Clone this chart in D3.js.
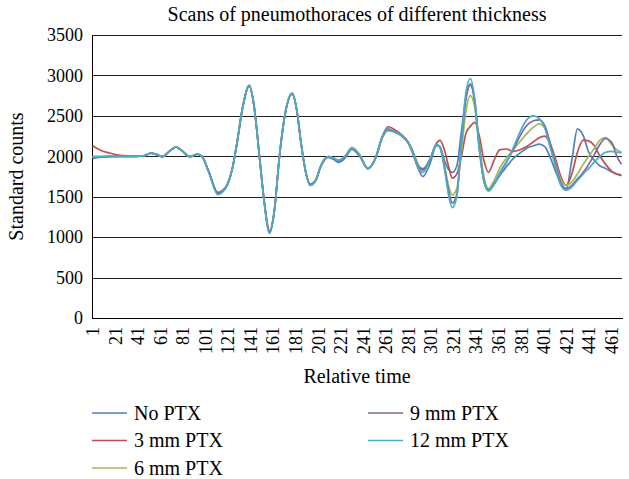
<!DOCTYPE html>
<html>
<head>
<meta charset="utf-8">
<script src="https://cdn.jsdelivr.net/npm/d3@7"></script>
<style>
body { margin: 0; background: #fff; }
</style>
</head>
<body>
<div id="chart"></div>
<script>
/* Scans of pneumothoraces - line chart */

// relative time of each sampled point
const times = [1, 8, 16, 24, 32, 40, 46, 53, 58, 63, 69, 75, 81, 87, 94, 98, 104, 112, 116, 121,
  125, 129, 134, 140, 144, 149, 153, 158, 162, 167, 172, 178, 182, 186, 190, 194, 199, 203, 210, 215,
  219, 225, 231, 238, 245, 252, 258, 263, 270, 276, 281, 285, 290, 294, 300, 306, 309, 313, 317, 320,
  324, 328, 332, 336, 340, 344, 348, 352, 357, 362, 368, 374, 380, 386, 392, 397, 402, 407, 412, 416,
  421, 426, 431, 436, 441, 446, 451, 456, 461, 466, 470];

const noPtx = [1985, 1992, 1998, 2000, 2000, 2000, 2005, 2040, 2020, 1995, 2060, 2115, 2060, 1995, 2025, 2000, 1810, 1545, 1570, 1665,
  1850, 2160, 2600, 2870, 2640, 2000, 1470, 1070, 1310, 2037, 2540, 2770, 2580, 2150, 1810, 1655, 1710, 1860, 1985, 1960,
  1925, 1980, 2085, 2000, 1845, 1975, 2230, 2320, 2290, 2240, 2160, 2030, 1840, 1750, 1900, 2130, 2120, 1950, 1830, 1800,
  1880, 2300, 2720, 2900, 2650, 2080, 1700, 1580, 1650, 1760, 1870, 1970, 2040, 2100, 2130, 2150, 2120, 1980, 1800, 1660,
  1600, 1950, 2340, 2260, 2050, 1950, 1880, 1850, 1810, 1780, 1770];

const ptx3 = [2130, 2075, 2040, 2015, 2005, 2002, 2005, 2040, 2020, 1995, 2060, 2115, 2060, 1995, 2025, 2000, 1815, 1555, 1575, 1670,
  1850, 2150, 2590, 2870, 2640, 2000, 1475, 1075, 1310, 2030, 2540, 2775, 2580, 2150, 1810, 1650, 1710, 1865, 1995, 1970,
  1945, 1995, 2090, 2005, 1850, 1985, 2250, 2365, 2320, 2255, 2175, 2060, 1890, 1830, 1960, 2160, 2200, 2080, 1860, 1730,
  1780, 1990, 2280, 2370, 2420, 2250, 1950, 1800, 1950, 2080, 2090, 2060, 2080, 2120, 2180, 2230, 2250, 2150, 1950, 1760,
  1640, 1780, 2050, 2200, 2190, 2130, 2000, 1900, 1820, 1780, 1760];

const ptx6 = [2000, 2000, 2000, 2000, 2000, 2000, 2005, 2040, 2020, 1995, 2060, 2118, 2060, 1995, 2025, 2000, 1810, 1550, 1570, 1665,
  1850, 2160, 2600, 2875, 2640, 2000, 1465, 1060, 1300, 2037, 2545, 2775, 2580, 2150, 1805, 1645, 1705, 1865, 1995, 1975,
  1950, 2005, 2110, 2020, 1850, 1980, 2240, 2340, 2300, 2245, 2170, 2050, 1880, 1850, 1960, 2140, 2120, 1890, 1620, 1520,
  1600, 2050, 2550, 2750, 2600, 2150, 1750, 1600, 1700, 1850, 1980, 2080, 2180, 2280, 2360, 2400, 2350, 2150, 1900, 1720,
  1640, 1680, 1780, 1900, 2000, 2100, 2200, 2230, 2150, 2080, 2050];

const ptx9 = [1975, 1988, 1996, 2000, 2000, 2000, 2005, 2040, 2020, 1995, 2060, 2115, 2060, 1995, 2025, 2000, 1810, 1545, 1565, 1660,
  1850, 2160, 2600, 2875, 2640, 2000, 1460, 1060, 1300, 2037, 2545, 2775, 2580, 2150, 1805, 1645, 1705, 1865, 1995, 1972,
  1945, 1998, 2095, 2010, 1850, 1980, 2240, 2335, 2300, 2245, 2170, 2050, 1870, 1840, 1950, 2140, 2115, 1870, 1560, 1420,
  1530, 2150, 2700, 2880, 2680, 2120, 1700, 1580, 1660, 1790, 1930, 2080, 2250, 2380, 2440, 2450, 2380, 2150, 1880, 1680,
  1600, 1640, 1720, 1800, 1900, 2020, 2150, 2220, 2180, 2000, 1900];

const ptx12 = [1990, 1995, 2000, 2000, 2000, 2000, 2005, 2040, 2020, 1995, 2060, 2115, 2060, 1995, 2025, 2000, 1800, 1525, 1555, 1655,
  1850, 2160, 2600, 2880, 2650, 1995, 1450, 1045, 1290, 2037, 2550, 2780, 2580, 2150, 1800, 1640, 1700, 1870, 1995, 1975,
  1950, 2000, 2095, 2010, 1850, 1980, 2240, 2335, 2300, 2245, 2170, 2050, 1860, 1800, 1950, 2140, 2110, 1850, 1500, 1365,
  1500, 2150, 2780, 2960, 2700, 2100, 1700, 1570, 1650, 1780, 1920, 2100, 2300, 2450, 2500, 2470, 2350, 2100, 1850, 1650,
  1580, 1620, 1700, 1780, 1850, 1930, 2000, 2050, 2060, 2050, 2040];

const seriesNames = ["No PTX", "3 mm PTX", "6 mm PTX", "9 mm PTX", "12 mm PTX"];
const seriesValues = [noPtx, ptx3, ptx6, ptx9, ptx12];
const seriesColors = ["#4F81BD", "#C0504D", "#9BBB59", "#8064A2", "#4BACC6"];

const yTicks = [0, 500, 1000, 1500, 2000, 2500, 3000, 3500];
const xTicks = [1, 21, 41, 61, 81, 101, 121, 141, 161, 181, 201, 221, 241, 261, 281, 301, 321, 341, 361, 381, 401, 421, 441, 461];

const FONT = "Liberation Serif";

// dimensions
const W = 629, H = 479;
const margin = {top: 35, right: 7, bottom: 161, left: 92};
const width = W - margin.left - margin.right,
      height = H - margin.top - margin.bottom;

const svg = d3.select("#chart")
  .append("svg")
  .attr("width", W)
  .attr("height", H);

const g = svg.append("g")
  .attr("transform", "translate(" + margin.left + "," + margin.top + ")");

const x = d3.scaleLinear().domain([0.5, 470.5]).range([0, width]);
const y = d3.scaleLinear().domain([0, 3500]).range([height, 0]);

// gridlines
g.append("g")
  .call(d3.axisLeft(y).tickValues(yTicks).tickSize(-width).tickFormat(""))
  .call(a => a.select(".domain").remove())
  .selectAll("line")
  .attr("stroke", "#222")
  .attr("shape-rendering", "crispEdges");

// y axis
const yAxis = g.append("g")
  .call(d3.axisLeft(y).tickValues(yTicks).tickSize(0).tickPadding(9).tickFormat(d3.format("d")));
yAxis.attr("font-family", FONT).attr("font-size", 18);
yAxis.select(".domain").attr("stroke", "#000").attr("shape-rendering", "crispEdges");
yAxis.selectAll("text").attr("fill", "#000");

// x axis
const xAxis = g.append("g")
  .attr("transform", "translate(0," + height + ")")
  .call(d3.axisBottom(x).tickValues(xTicks).tickSize(0).tickFormat(d3.format("d")));
xAxis.attr("font-family", FONT).attr("font-size", 18);
xAxis.select(".domain").attr("stroke", "#000").attr("shape-rendering", "crispEdges");
xAxis.selectAll("text")
  .attr("fill", "#000")
  .style("text-anchor", "end")
  .attr("x", -9)
  .attr("y", 0)
  .attr("dy", "0.33em")
  .attr("transform", "rotate(-90)");

// lines
const line = d3.line()
  .x(function(d) { return x(d[0]); })
  .y(function(d) { return y(d[1]); })
  .curve(d3.curveMonotoneX);

seriesValues.forEach(function(vals, i) {
  g.append("path")
    .datum(times.map(function(t, j) { return [t, vals[j]]; }))
    .attr("fill", "none")
    .attr("stroke", seriesColors[i])
    .attr("stroke-width", 1.7)
    .attr("d", line);
});

// titles
svg.append("text")
  .attr("x", margin.left + width / 2)
  .attr("y", 21)
  .attr("text-anchor", "middle")
  .attr("font-family", FONT)
  .attr("font-size", 20)
  .text("Scans of pneumothoraces of different thickness");

svg.append("text")
  .attr("transform", "translate(23," + (margin.top + height / 2) + ") rotate(-90)")
  .attr("text-anchor", "middle")
  .attr("font-family", FONT)
  .attr("font-size", 20)
  .text("Standard counts");

svg.append("text")
  .attr("x", margin.left + width / 2)
  .attr("y", 383)
  .attr("text-anchor", "middle")
  .attr("font-family", FONT)
  .attr("font-size", 20)
  .text("Relative time");

// legend, two columns
const legend = svg.append("g");
seriesNames.forEach(function(name, i) {
  const col = i < 3 ? 0 : 1;
  const row = i < 3 ? i : i - 3;
  const lx = col === 0 ? 92 : 368;
  const ly = 413 + row * 27.5;
  legend.append("line")
    .attr("x1", lx).attr("x2", lx + 35)
    .attr("y1", ly).attr("y2", ly)
    .attr("stroke", seriesColors[i])
    .attr("stroke-width", 1.7);
  legend.append("text")
    .attr("x", lx + 42)
    .attr("y", ly + 6.5)
    .attr("font-family", FONT)
    .attr("font-size", 20)
    .text(name);
});
</script>
</body>
</html>
